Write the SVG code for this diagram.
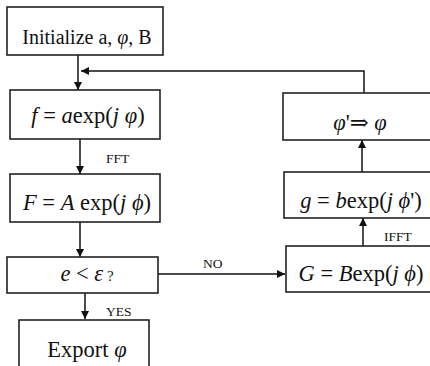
<svg xmlns="http://www.w3.org/2000/svg" width="430" height="366" viewBox="0 0 430 366">
<defs>
<marker id="ah" viewBox="0 0 10 10" refX="10" refY="5" markerWidth="8" markerHeight="8" markerUnits="userSpaceOnUse" orient="auto">
<path d="M0,0 L10,5 L0,10 z" fill="#111"/>
</marker>
<style>
.box{fill:#fff;stroke:#222;stroke-width:1.6}
text{font-family:'Liberation Serif','Times New Roman','DejaVu Serif',serif;fill:#111}
.t{font-size:20px}
.m{font-size:22.5px}
.i{font-style:italic}
.lab{font-size:13.5px}
.c{fill:none;stroke:#111;stroke-width:1.5}
</style>
</defs>
<rect width="430" height="366" fill="#fff"/>
<g id="connectors">
<path class="c" d="M78,55 V90" marker-end="url(#ah)"/>
<path class="c" d="M364,93 V71 H81" marker-end="url(#ah)"/>
<path class="c" d="M80,139 V174" marker-end="url(#ah)"/>
<path class="c" d="M80,222 V257" marker-end="url(#ah)"/>
<path class="c" d="M85,293 V319" marker-end="url(#ah)"/>
<path class="c" d="M158,274 H285" marker-end="url(#ah)"/>
<path class="c" d="M363,246 V218" marker-end="url(#ah)"/>
<path class="c" d="M362,172 V140" marker-end="url(#ah)"/>
<text class="lab" x="106" y="163">FFT</text>
<text class="lab" x="106" y="316">YES</text>
<text class="lab" x="203" y="268">NO</text>
<text class="lab" x="384" y="241">IFFT</text>
</g>
<g id="init">
<rect class="box" x="7" y="7" width="156" height="48"/>
<text class="t" x="87" y="44" text-anchor="middle">Initialize a, <tspan class="i">φ</tspan>, B</text>
</g>
<g id="f">
<rect class="box" x="10" y="90" width="150" height="49"/>
<text class="m" x="88" y="123" text-anchor="middle"><tspan class="i">f</tspan> = <tspan class="i">a</tspan>exp(<tspan class="i">j φ</tspan>)</text>
</g>
<g id="F">
<rect class="box" x="10" y="174" width="150" height="48"/>
<text class="m" x="87" y="210" text-anchor="middle"><tspan class="i">F</tspan> = <tspan class="i">A</tspan> exp(<tspan class="i">j ϕ</tspan>)</text>
</g>
<g id="e">
<rect class="box" x="7" y="257" width="151" height="36"/>
<text class="m" x="87" y="281" font-size="21" text-anchor="middle"><tspan class="i">e</tspan> &lt; <tspan class="i">ε</tspan><tspan font-size="15"> ?</tspan></text>
</g>
<g id="export">
<rect class="box" x="19" y="320" width="130" height="52"/>
<text class="m" x="87" y="357" font-size="21.5" text-anchor="middle">Export <tspan class="i">φ</tspan></text>
</g>
<g id="update">
<rect class="box" x="283" y="93" width="152" height="47"/>
<text class="m" x="360" y="130" text-anchor="middle"><tspan class="i">φ</tspan>'⇒ <tspan class="i">φ</tspan></text>
</g>
<g id="g">
<rect class="box" x="284" y="172" width="152" height="46"/>
<text class="m" x="361" y="208" text-anchor="middle"><tspan class="i">g</tspan> = <tspan class="i">b</tspan>exp(<tspan class="i">j ϕ</tspan>')</text>
</g>
<g id="G">
<rect class="box" x="286" y="246" width="150" height="46"/>
<text class="m" x="361" y="281" text-anchor="middle"><tspan class="i">G</tspan> = <tspan class="i">B</tspan>exp(<tspan class="i">j ϕ</tspan>)</text>
</g>
</svg>
